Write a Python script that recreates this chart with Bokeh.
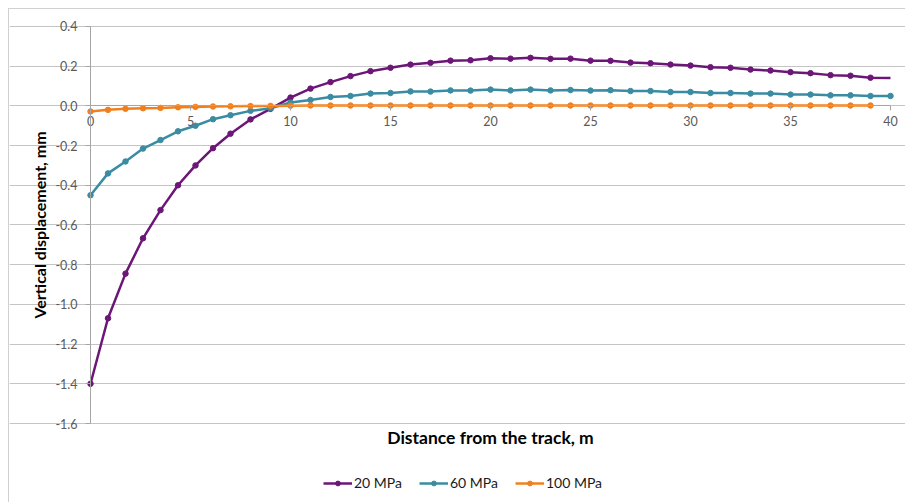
from bokeh.plotting import figure
from bokeh.models import (Range1d, NumeralTickFormatter, FixedTicker, Legend, LegendItem, Label)
from bokeh.embed import file_html
from bokeh.resources import INLINE

distance = [0, 0.875, 1.75, 2.625, 3.5, 4.375, 5.25, 6.125, 7, 8, 9, 10, 11, 12, 13, 14, 15,
            16, 17, 18, 19, 20, 21, 22, 23, 24, 25, 26, 27, 28, 29, 30, 31, 32, 33, 34, 35,
            36, 37, 38, 39, 40]

mpa20 = [-1.400, -1.070, -0.845, -0.667, -0.525, -0.400, -0.300, -0.213, -0.140, -0.068,
         -0.015, 0.042, 0.087, 0.120, 0.150, 0.175, 0.192, 0.208, 0.217, 0.228, 0.230,
         0.240, 0.238, 0.242, 0.237, 0.238, 0.228, 0.227, 0.218, 0.215, 0.208, 0.203,
         0.195, 0.192, 0.183, 0.178, 0.170, 0.165, 0.155, 0.152, 0.142, 0.140]

mpa60 = [-0.450, -0.340, -0.280, -0.215, -0.172, -0.128, -0.100, -0.067, -0.047, -0.025,
         -0.012, 0.017, 0.030, 0.045, 0.050, 0.062, 0.065, 0.073, 0.072, 0.078, 0.077,
         0.082, 0.078, 0.082, 0.078, 0.080, 0.077, 0.079, 0.075, 0.075, 0.070, 0.070,
         0.065, 0.065, 0.062, 0.062, 0.057, 0.057, 0.053, 0.053, 0.050, 0.050]

mpa100 = [-0.028, -0.020, -0.015, -0.012, -0.010, -0.007, -0.005, -0.003, -0.002, -0.001,
          0.000, 0.001, 0.002, 0.002, 0.002, 0.002, 0.002, 0.002, 0.002, 0.002, 0.002,
          0.002, 0.002, 0.002, 0.002, 0.002, 0.002, 0.002, 0.002, 0.002, 0.002, 0.002,
          0.002, 0.002, 0.002, 0.002, 0.002, 0.002, 0.002, 0.002, 0.002]

x_ticks = [0, 5, 10, 15, 20, 25, 30, 35, 40]
y_ticks = [-1.6, -1.4, -1.2, -1.0, -0.8, -0.6, -0.4, -0.2, 0.0, 0.2, 0.4]

labels = ["20 MPa", "60 MPa", "100 MPa"]
colors = ["#6c1677", "#3a8ca2", "#f0801e"]

FONT = "Lato"
AXIS_GREY = "#a6a6a6"

# the frame fills the whole chart box so that axes, title and legend are drawn inside it;
# axes and grid are bounded to the chart's value range
p = figure(width=897, height=494, output_backend="svg", toolbar_location=None,
           x_range=Range1d(-4.05, 40.8), y_range=Range1d(-2.003, 0.4856),
           min_border=0, min_border_left=0, min_border_right=0,
           min_border_top=0, min_border_bottom=0,
           margin=(8, 0, 0, 8),
           styles={"border-left": "1px solid #d0d0d0", "border-top": "1px solid #d0d0d0"})
p.outline_line_color = None
p.background_fill_color = "white"
p.border_fill_color = "white"

xa = p.xaxis[0]
xa.fixed_location = 0
xa.bounds = (0, 40)
xa.ticker = FixedTicker(ticks=x_ticks)
xa.axis_line_color = AXIS_GREY
xa.major_tick_line_color = AXIS_GREY
xa.major_tick_out = 5
xa.major_tick_in = 0
xa.minor_tick_line_color = None
xa.major_label_text_font = FONT
xa.major_label_text_font_size = "12.5px"
xa.major_label_text_color = "#595959"
xa.major_label_standoff = 5

ya = p.yaxis[0]
ya.fixed_location = 0
ya.bounds = (-1.6, 0.4)
ya.ticker = FixedTicker(ticks=y_ticks)
ya.formatter = NumeralTickFormatter(format="0.0")
ya.axis_line_color = AXIS_GREY
ya.major_tick_line_color = AXIS_GREY
ya.major_tick_out = 5
ya.major_tick_in = 0
ya.minor_tick_line_color = None
ya.major_label_text_font = FONT
ya.major_label_text_font_size = "12.5px"
ya.major_label_text_color = "#595959"
ya.major_label_standoff = 8
ya.axis_label = "Vertical displacement, mm"
ya.axis_label_text_font = FONT
ya.axis_label_text_font_size = "16px"
ya.axis_label_text_font_style = "bold"
ya.axis_label_text_color = "#000000"
ya.axis_label_standoff = 3

p.xgrid.grid_line_color = None
p.ygrid.ticker = FixedTicker(ticks=y_ticks)
p.ygrid.bounds = (0, 40)
p.ygrid.grid_line_color = "#c4c4c4"
p.ygrid.grid_line_width = 1

series = [mpa20, mpa60, mpa100]
items = []
for lab, col, ys in zip(labels, colors, series):
    xs = distance[:len(ys)]
    lr = p.line(xs, ys, line_color=col, line_width=2.5)
    mx = xs if lab != "20 MPa" else xs[:-1]
    my = ys if lab != "20 MPa" else ys[:-1]
    sr = p.scatter(mx, my, marker="circle", size=5.5, fill_color=col, line_color=col)
    items.append(LegendItem(label=lab, renderers=[lr, sr]))

p.add_layout(Label(x=20, y=-1.671, text="Distance from the track, m", text_align="center",
                   text_baseline="middle", text_font=FONT, text_font_size="17.5px",
                   text_font_style="bold", text_color="#000000"))

legend = Legend(items=items, orientation="horizontal", location=(314, 12),
                label_text_font=FONT, label_text_font_size="14px", label_text_color="#1a1a1a",
                glyph_width=29, glyph_height=12, label_standoff=2, spacing=17,
                border_line_color=None, background_fill_alpha=0, padding=0, margin=0)
p.add_layout(legend, "center")

open("out.html", "w").write(file_html(p, INLINE))
